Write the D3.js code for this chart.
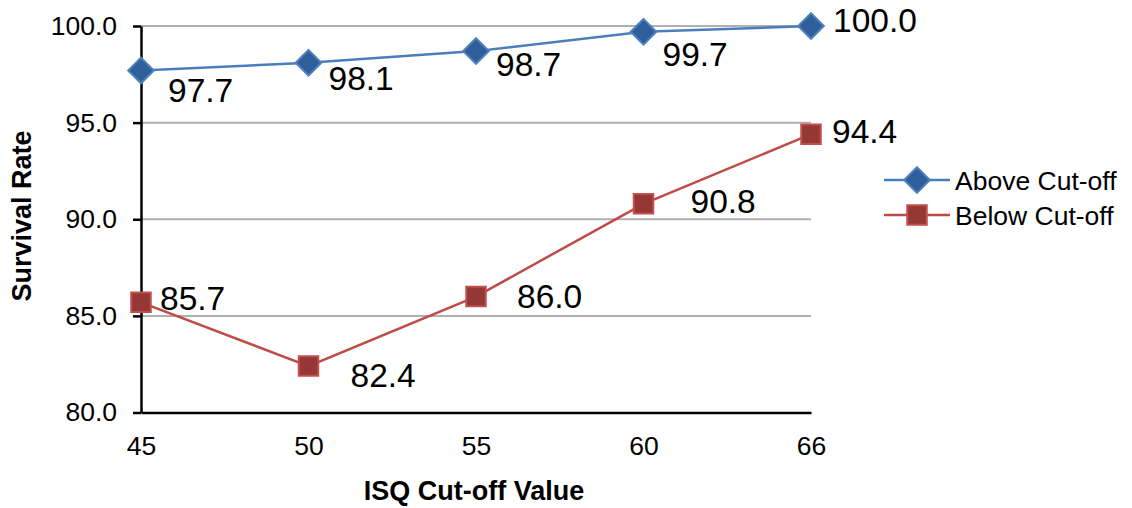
<!DOCTYPE html>
<html>
<head>
<meta charset="utf-8">
<script src="https://cdn.jsdelivr.net/npm/d3@7"></script>
<style>
  html, body { margin: 0; padding: 0; background: #fff; }
  svg { display: block; font-family: "Liberation Sans", Arial, Helvetica, sans-serif; }
</style>
</head>
<body>
<svg id="chart" width="1132" height="508"></svg>
<script>
// ---- data ----
const categories = ["45", "50", "55", "60", "66"];
const aboveValues = [97.7, 98.1, 98.7, 99.7, 100.0];
const belowValues = [85.7, 82.4, 86.0, 90.8, 94.4];
const yTicks = [80, 85, 90, 95, 100];
const seriesNames = ["Above Cut-off", "Below Cut-off"];

// label offsets (layout hints: dx from point to label start, dy to label middle)
const aboveLabelOffsets = [[27, 19], [20, 15], [20, 13], [19, 22], [22, -6]];
const belowLabelOffsets = [[19, -4], [42, 9], [41, -1], [47, -3], [21, -3]];

const svg = d3.select("#chart");
const plotLeft = 141, plotRight = 811, plotTop = 26, plotBottom = 412.5;

const x = d3.scalePoint().domain(categories).range([plotLeft, plotRight]);
const y = d3.scaleLinear().domain([80, 100]).range([plotBottom, plotTop]);

// gridlines
svg.append("g").selectAll("line").data(yTicks.filter(d => d > 80)).join("line")
  .attr("x1", plotLeft).attr("x2", plotRight)
  .attr("y1", d => y(d)).attr("y2", d => y(d))
  .attr("stroke", "#b0b0b0").attr("stroke-width", 2);

// y axis
const yAxis = d3.axisLeft(y).tickValues(yTicks).tickFormat(d3.format(".1f")).tickSize(8).tickSizeOuter(0);
const gy = svg.append("g").attr("transform", `translate(${plotLeft},0)`).call(yAxis);
gy.select(".domain").attr("stroke", "#000").attr("stroke-width", 2.5);
gy.selectAll(".tick line").attr("stroke", "#000").attr("stroke-width", 2.5);
gy.selectAll(".tick text").attr("font-size", 26.5).attr("fill", "#000").attr("x", -24)
  .attr("font-family", "Liberation Sans, Arial, sans-serif");

// x axis
const xAxis = d3.axisBottom(x).tickSize(0).tickSizeOuter(0).tickPadding(24);
const gx = svg.append("g").attr("transform", `translate(0,${plotBottom})`).call(xAxis);
gx.select(".domain").attr("stroke", "#000").attr("stroke-width", 2.5);
gx.selectAll(".tick text").attr("font-size", 26.5).attr("fill", "#000")
  .attr("font-family", "Liberation Sans, Arial, sans-serif");

// axis titles
svg.append("text").attr("x", 474).attr("y", 500)
  .attr("text-anchor", "middle").attr("font-weight", "bold").attr("font-size", 27)
  .text("ISQ Cut-off Value");
svg.append("text").attr("transform", `translate(31,216) rotate(-90)`)
  .attr("text-anchor", "middle").attr("font-weight", "bold").attr("font-size", 27)
  .text("Survival Rate");

const blue = { line: "#4a7ebb", fill: "#2f5f9a", stroke: "#4f81bd" };
const red = { line: "#be4b48", fill: "#953735", stroke: "#c0504d" };

const line = d3.line().x((d, i) => x(categories[i])).y(d => y(d));

function drawSeries(values, col, shape, size, offsets) {
  svg.append("path").datum(values).attr("d", line)
    .attr("fill", "none").attr("stroke", col.line).attr("stroke-width", 2.5);
  const sym = d3.symbol().type(shape).size(size);
  svg.append("g").selectAll("path").data(values).join("path")
    .attr("d", sym)
    .attr("transform", (d, i) => `translate(${x(categories[i])},${y(d)})`)
    .attr("fill", col.fill).attr("stroke", col.stroke).attr("stroke-width", 2);
  svg.append("g").selectAll("text").data(values).join("text")
    .attr("x", (d, i) => x(categories[i]) + offsets[i][0])
    .attr("y", (d, i) => y(d) + offsets[i][1])
    .attr("dy", "0.36em")
    .attr("font-size", 33.5).attr("fill", "#000")
    .text(d => d3.format(".1f")(d));
}

drawSeries(aboveValues, blue, d3.symbolDiamond2, 420, aboveLabelOffsets);
drawSeries(belowValues, red, d3.symbolSquare, 380, belowLabelOffsets);

// legend
const legend = svg.append("g");
const legendItems = [
  { name: seriesNames[0], col: blue, shape: d3.symbolDiamond2, size: 420 },
  { name: seriesNames[1], col: red, shape: d3.symbolSquare, size: 380 }
];
legendItems.forEach((it, i) => {
  const ly = 180 + i * 35;
  legend.append("line").attr("x1", 884).attr("x2", 950).attr("y1", ly).attr("y2", ly)
    .attr("stroke", it.col.line).attr("stroke-width", 2.5);
  legend.append("path").attr("d", d3.symbol().type(it.shape).size(it.size))
    .attr("transform", `translate(917,${ly})`)
    .attr("fill", it.col.fill).attr("stroke", it.col.stroke).attr("stroke-width", 2);
  legend.append("text").attr("x", 955).attr("y", ly).attr("dy", "0.36em")
    .attr("font-size", 26.5).attr("fill", "#000").text(it.name);
});
</script>
</body>
</html>
